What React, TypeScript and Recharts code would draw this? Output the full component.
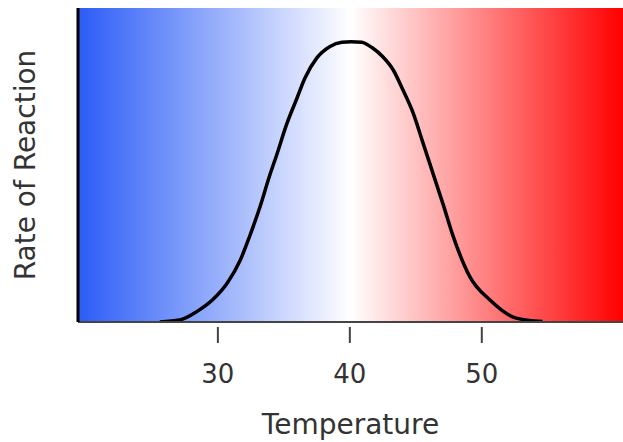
import { ComposedChart, Line, XAxis, YAxis, ReferenceArea } from 'recharts';

const temperatures = [
  25.6, 27.1, 28.4, 29.6, 30.7, 31.7, 32.4, 33.2, 33.9, 34.5, 35.2, 36.0, 36.6,
  37.5, 38.5, 39.4, 40.1, 40.9, 41.7, 42.5, 43.3, 44.0, 44.8, 45.5, 46.3, 47.1,
  47.8, 49.1, 50.6, 52.6, 54.6,
];
const rates = [
  0, 0.7, 3.7, 7.9, 13.8, 22.1, 30.5, 41.2, 51.9, 60.2, 70.4, 79.9, 87.0,
  94.2, 98.3, 99.8, 100, 99.8, 97.8, 94.6, 89.8, 83.0, 74.5, 64.5, 53.0, 41.5,
  31.0, 16.1, 7.9, 1.4, 0.2,
];
const xTicks = [30, 40, 50];
const xDomain = [19.4, 60.7];
const yDomain = [0, 112];

const data = temperatures.map((t, i) => ({ temp: t, rate: rates[i] }));

const FONT = '"DejaVu Sans", sans-serif';

function TempTick({ x, y, payload }: { x?: number; y?: number; payload?: { value: number } }) {
  if (x == null || y == null || !payload) return null;
  return (
    <g>
      <line x1={x} x2={x} y1={y + 5} y2={y + 21} stroke="#444" strokeWidth={2} />
      <text x={x} y={y + 61} textAnchor="middle" fontSize={26} fontFamily={FONT} fill="#333">
        {payload.value}
      </text>
    </g>
  );
}

export default function App() {
  return (
    <div style={{ position: 'absolute', left: 0, top: 0 }}>
      <ComposedChart
        width={623}
        height={442}
        data={data}
        margin={{ top: 8, right: 0, left: 0, bottom: 0 }}
      >
        <defs>
          <linearGradient id="tempBg" x1="0" y1="0" x2="1" y2="0">
            <stop offset="0%" stopColor="#2b5cf7" />
            <stop offset="50%" stopColor="#ffffff" />
            <stop offset="100%" stopColor="#ff0000" />
          </linearGradient>
        </defs>
        <XAxis
          dataKey="temp"
          type="number"
          domain={xDomain}
          ticks={xTicks}
          allowDataOverflow
          height={120}
          tickSize={0}
          tickMargin={0}
          tickLine={false}
          tick={<TempTick />}
          axisLine={{ stroke: '#444', strokeWidth: 2 }}
          label={{
            value: 'Temperature',
            position: 'insideBottom',
            offset: 8,
            fontSize: 28,
            fontFamily: FONT,
            fill: '#333',
          }}
        />
        <YAxis
          type="number"
          domain={yDomain}
          allowDataOverflow
          width={78}
          tick={false}
          tickLine={false}
          axisLine={{ stroke: '#000', strokeWidth: 3 }}
          label={{
            value: 'Rate of Reaction',
            angle: -90,
            position: 'insideLeft',
            offset: 25,
            fontSize: 28,
            fontFamily: FONT,
            fill: '#333',
            style: { textAnchor: 'middle' },
          }}
        />
        <ReferenceArea
          x1={xDomain[0]}
          x2={xDomain[1]}
          y1={yDomain[0]}
          y2={yDomain[1]}
          fill="url(#tempBg)"
          fillOpacity={1}
          stroke="none"
          ifOverflow="hidden"
        />
        <Line
          type="monotone"
          dataKey="rate"
          stroke="#000"
          strokeWidth={3.5}
          dot={false}
          isAnimationActive={false}
        />
      </ComposedChart>
    </div>
  );
}
